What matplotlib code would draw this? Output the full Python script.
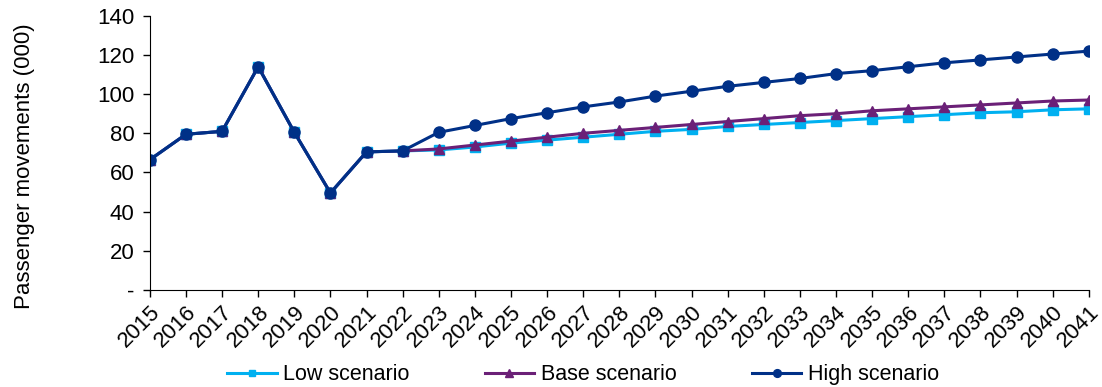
import matplotlib
matplotlib.use("Agg")
import matplotlib.pyplot as plt
from matplotlib.ticker import FuncFormatter

plt.rcParams['font.family'] = ['Liberation Sans', 'DejaVu Sans']

years = list(range(2015, 2042))
history = [66.5, 79.5, 81, 114, 80.5, 49.5, 70.5, 71]
low = history + [71.5, 73, 75, 76.5, 78, 79.5, 81, 82, 83.5, 84.5, 85.5,
                 86.5, 87.5, 88.5, 89.5, 90.5, 91, 92, 92.5]
base = history + [72, 74, 76, 78, 80, 81.5, 83, 84.5, 86, 87.5, 89,
                  90, 91.5, 92.5, 93.5, 94.5, 95.5, 96.5, 97]
high = history + [80.5, 84, 87.5, 90.5, 93.5, 96, 99, 101.5, 104, 106, 108,
                  110.5, 112, 114, 116, 117.5, 119, 120.5, 122]

fs = 16

fig = plt.figure(figsize=(11.02, 3.87), dpi=100)
ax = fig.add_axes([0.136, 0.251, 0.852, 0.708])

ax.plot(years, low, color='#00B0F0', marker='s', markersize=7, linewidth=2.2, label='Low scenario')
ax.plot(years, base, color='#6B2077', marker='^', markersize=7.5, linewidth=2.2, label='Base scenario')
ax.plot(years, high, color='#003087', marker='o', markersize=8, linewidth=2.2, label='High scenario')

ax.set_xlim(2015, 2041)
ax.set_ylim(0, 140)
ax.set_yticks(range(0, 141, 20))
ax.yaxis.set_major_formatter(FuncFormatter(lambda v, p: '-' if v == 0 else f'{v:.0f}'))
ax.set_xticks(years)
ax.set_xticklabels([str(y) for y in years], rotation=45, ha='right', rotation_mode='anchor')

ax.spines['top'].set_visible(False)
ax.spines['right'].set_visible(False)
ax.tick_params(axis='both', labelsize=fs, direction='out', length=5, width=1, colors='black')
ax.tick_params(axis='y', pad=6)
ax.set_ylabel('Passenger movements (000)', fontsize=fs, labelpad=46)
ax.yaxis.set_label_coords(-0.122, 0.45)

leg = fig.legend(loc='lower center', bbox_to_anchor=(0.529, -0.045), ncol=3, frameon=False,
                 fontsize=15.5, columnspacing=3.5, handlelength=2.3, handletextpad=0.3,
                 markerscale=0.7)

fig.savefig('out.png', dpi=100)
